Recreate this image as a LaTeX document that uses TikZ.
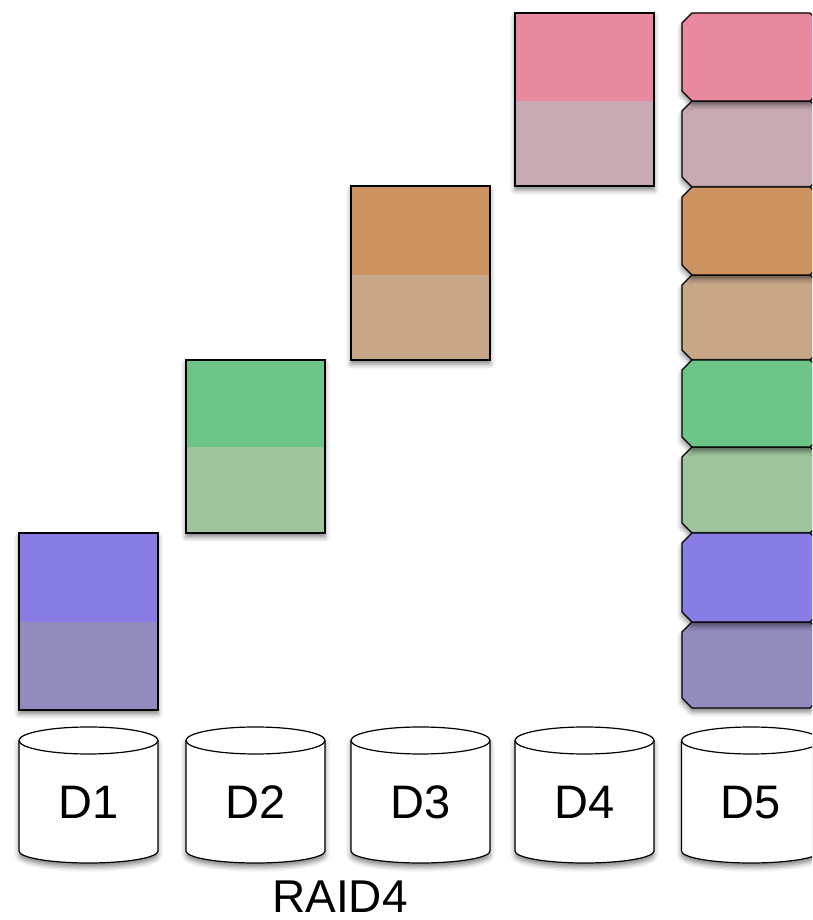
\documentclass[tikz,border=0pt]{standalone}
\usepackage{fontspec}
\setmainfont{Liberation Sans}
\usetikzlibrary{shadows.blur}
\definecolor{pinkA}{RGB}{232,137,160}
\definecolor{pinkB}{RGB}{200,170,178}
\definecolor{orangeA}{RGB}{204,147,96}
\definecolor{orangeB}{RGB}{200,166,136}
\definecolor{greenA}{RGB}{108,196,134}
\definecolor{greenB}{RGB}{160,196,158}
\definecolor{purpleA}{RGB}{135,125,228}
\definecolor{purpleB}{RGB}{146,139,190}
% x0 x1 ybottom ysplit ytop topcolor bottomcolor
\newcommand\mkblock[7]{%
  \path[shad, fill=#7] (#1,#3) rectangle (#2,#5);
  \fill[#6] (#1,#4) rectangle (#2,#5);
  \draw[blockline] (#1,#3) rectangle (#2,#5);}
% x0 x1 ybottom ytop colour
\newcommand\chblock[5]{%
  \path[shad, fill=#5, blockline] (#1+10,#3) -- (#2-10,#3) -- (#2,#3+10) -- (#2,#4-10)
    -- (#2-10,#4) -- (#1+10,#4) -- (#1,#4-10) -- (#1,#3+10) -- cycle;}
% centre x, label, name
\newcommand\mkdisk[3]{%
  \path[shad, fill=white, diskline] (#1-69.5,179.5) -- (#1-69.5,69)
    arc (180:360:69.5 and 12) -- (#1+69.5,179.5) arc (0:180:69.5 and 13.5) -- cycle;
  \draw[diskline] (#1-69.5,179.5) arc (180:360:69.5 and 13.5);
  \node[disklabel] (#3) at (#1,101) {#2};}
\begin{document}
\begin{tikzpicture}[x=1pt,y=1pt,
  blockline/.style={draw=black, line width=1.3pt, line join=miter},
  diskline/.style={draw=black, line width=1.2pt},
  shad/.style={blur shadow={shadow xshift=0pt, shadow yshift=-4pt, shadow blur radius=5pt, shadow opacity=50}},
  disklabel/.style={font=\fontsize{47}{56}\selectfont, anchor=base, inner sep=0pt},
  titlelabel/.style={font=\fontsize{46}{54}\selectfont, anchor=base, inner sep=0pt}]
\useasboundingbox (0,0) rectangle (812,920);
\clip (0,0) rectangle (812,920);
% staircase of data blocks
\mkblock{19}{158}{210}{297.5}{387}{purpleA}{purpleB}
\mkblock{186}{325}{387}{473}{560}{greenA}{greenB}
\mkblock{351}{490}{560}{645}{734}{orangeA}{orangeB}
\mkblock{515}{654}{734}{819}{907}{pinkA}{pinkB}
% parity column on D5
\chblock{682}{820}{733}{819}{pinkB}
\chblock{682}{820}{819}{907}{pinkA}
\chblock{682}{820}{560}{645}{orangeB}
\chblock{682}{820}{645}{733}{orangeA}
\chblock{682}{820}{387}{473}{greenB}
\chblock{682}{820}{473}{560}{greenA}
\chblock{682}{820}{212}{298}{purpleB}
\chblock{682}{820}{298}{387}{purpleA}
% disks
\mkdisk{88.5}{D1}{d1}
\mkdisk{255.5}{D2}{d2}
\mkdisk{420.5}{D3}{d3}
\mkdisk{584.5}{D4}{d4}
\mkdisk{751}{D5}{d5}
\node[titlelabel] (raid) at (340,8) {RAID4};
\end{tikzpicture}
\end{document}
